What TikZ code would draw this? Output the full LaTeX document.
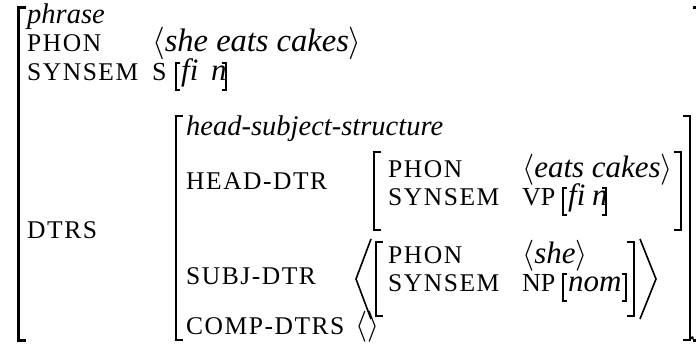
\RequirePackage{fix-cm}
\documentclass[tikz,border=0pt]{standalone}
\usepackage{fontspec}
\setmainfont{Liberation Serif}[
  UprightFont={Liberation Serif},
  ItalicFont={Liberation Serif Italic}]
\newfontfamily\attrfamily{Liberation Serif}[LetterSpace=6]
\begin{document}
\begin{tikzpicture}[x=1pt,y=-1pt,
  attr/.style={anchor=base west, inner sep=0pt, font=\attrfamily\fontsize{25.5}{25.5}\selectfont},
  val/.style={anchor=base west, inner sep=0pt, font=\fontsize{26}{26}\selectfont},
  ival/.style={anchor=base west, inner sep=0pt, font=\fontsize{31}{31}\selectfont\itshape},
  bigival/.style={ival, font=\fontsize{32.5}{32.5}\selectfont\itshape},
  typ/.style={anchor=base west, inner sep=0pt, font=\fontsize{28.5}{28.5}\selectfont\itshape},
  outerbrk/.style={line width=3pt},
  avmbrk/.style={line width=2.2pt},
  featbrk/.style={line width=1.1pt},
  angbrk/.style={line width=1.6pt, line join=miter}]
\useasboundingbox (0,0) rectangle (696,344);

% outer phrase matrix
\draw[outerbrk] (26,8) -- (18,8) -- (18,341) -- (26,341);
\draw[outerbrk] (693,8) -- (700,8) -- (700,341) -- (693,341);
\node[typ]     (phr)   at (27,24)  {phrase};
\node[attr]    (phon)  at (27,52)  {PHON};
\node[bigival] (phonv) at (152,52) {$\langle$she eats cakes$\rangle$};
\node[attr]    (syn)   at (27,81)  {SYNSEM};
\node[val]     (synS)  at (152,81) {S};
\draw[featbrk] (180,63) -- (176,63) -- (176,90) -- (180,90);
\node[ival]    (synfi) at (181,81) {fi};
\node[ival]    (synn)  at (211,81) {n};
\draw[featbrk] (222,63) -- (226,63) -- (226,90) -- (222,90);
\node[attr]    (dtrs)  at (27,239) {DTRS};

% head-subject-structure
\draw[avmbrk] (183,116) -- (176,116) -- (176,340) -- (183,340);
\draw[avmbrk] (683,116) -- (690,116) -- (690,340) -- (683,340);
\node[val]  (dot)   at (689,340) {\makebox[3.5pt][l]{.}};
\node[typ]  (hss)   at (186,136) {head-subject-structure};
\node[attr] (hd)    at (186,190) {HEAD-DTR};
\node[attr] (sd)    at (186,285) {SUBJ-DTR};
\node[attr] (cd)    at (186,335) {COMP-DTRS};
\node[ival] (cdv)   at (355,335) {$\langle\rangle$};

% head daughter
\draw[avmbrk] (381,152) -- (374,152) -- (374,230) -- (381,230);
\draw[avmbrk] (674,152) -- (681,152) -- (681,230) -- (674,230);
\node[attr] (hphon) at (388,178) {PHON};
\node[ival] (hphv)  at (522,178) {$\langle$eats cakes$\rangle$};
\node[attr] (hsyn)  at (388,206) {SYNSEM};
\node[val]  (hVP)   at (522,206) {VP};
\draw[featbrk] (567,188) -- (563,188) -- (563,215) -- (567,215);
\node[ival] (hfi)   at (568,206) {fi};
\node[ival] (hn)    at (592,206) {n};
\draw[featbrk] (602,188) -- (606,188) -- (606,215) -- (602,215);

% subject daughter list
\draw[angbrk] (371,239) -- (356,279) -- (371,319);
\draw[angbrk] (640,239) -- (656,279) -- (640,319);
\draw[avmbrk] (383,242) -- (376,242) -- (376,316) -- (383,316);
\draw[avmbrk] (627,242) -- (634,242) -- (634,316) -- (627,316);
\node[attr] (sphon) at (388,264) {PHON};
\node[ival] (sphv)  at (522,264) {$\langle$she$\rangle$};
\node[attr] (ssyn)  at (388,292) {SYNSEM};
\node[val]  (sNP)   at (522,292) {NP};
\draw[featbrk] (567,274) -- (563,274) -- (563,301) -- (567,301);
\node[ival] (snom)  at (568,292) {nom};
\draw[featbrk] (622,274) -- (626,274) -- (626,301) -- (622,301);
\end{tikzpicture}
\end{document}
